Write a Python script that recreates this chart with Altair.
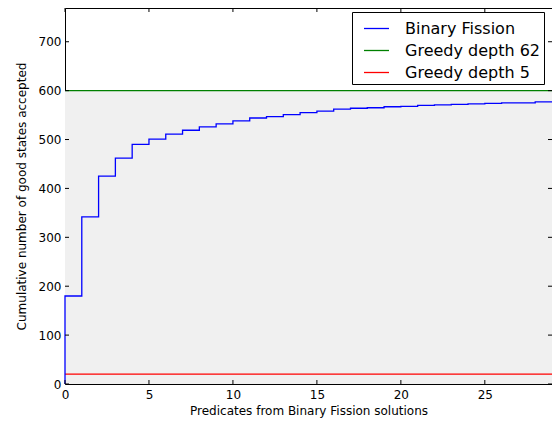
import altair as alt
import pandas as pd

# Data
steps_x = [0, 0, 1, 2, 3, 4, 5, 6, 7, 8, 9, 10, 11, 12, 13, 14, 15, 16, 17, 18, 19,
           20, 21, 22, 23, 24, 25, 26, 27, 28, 29]
steps_y = [0, 180, 342, 425, 462, 490, 501, 511, 519, 526, 532, 538, 544, 547, 551, 555,
           558, 562, 564, 565, 567, 568, 570, 571, 572, 573, 574, 575, 575, 577, 577]
series_names = ["Binary Fission", "Greedy depth 62", "Greedy depth 5"]
series_colors = ["#0000ff", "#008000", "#ff0000"]
greedy_values = [600, 20]
x_ticks = [0, 5, 10, 15, 20, 25]
y_ticks = [0, 100, 200, 300, 400, 500, 600, 700]
x_domain = [0, 29]
y_domain = [0, 769]

W, H = 487, 376
FONT = "DejaVu Sans"

step_df = pd.DataFrame({"x": steps_x, "y": steps_y, "order": list(range(len(steps_x))),
                        "series": series_names[0]})
rule_df = pd.DataFrame({"y": greedy_values, "series": series_names[1:]})
band_df = pd.DataFrame({"y0": [0], "y1": [greedy_values[0]]})
xt_df = pd.DataFrame({"t": x_ticks})
yt_df = pd.DataFrame({"t": y_ticks})

xscale = alt.Scale(domain=x_domain, nice=False, zero=False)
yscale = alt.Scale(domain=y_domain, nice=False, zero=False)
cscale = alt.Scale(domain=series_names, range=series_colors)

xaxis = alt.Axis(values=x_ticks, title="Predicates from Binary Fission solutions",
                 ticks=False, domain=False, grid=False, labelPadding=5, titlePadding=5,
                 labelFlush=False)
yaxis = alt.Axis(values=y_ticks, title="Cumulative number of good states accepted",
                 ticks=False, domain=False, grid=False, labelPadding=4, titlePadding=10)

band = alt.Chart(band_df).mark_rect(color="#f0f0f0").encode(
    x=alt.value(0), x2=alt.value(W),
    y=alt.Y("y0:Q", scale=yscale, axis=yaxis), y2="y1:Q")

legend = alt.Legend(title=None, orient="none", legendX=287, legendY=4,
                    symbolType="stroke", symbolSize=625, symbolStrokeWidth=1.3,
                    symbolOffset=8, labelOffset=15, labelFont=FONT, labelFontSize=16,
                    labelColor="black", strokeColor="black", fillColor="white",
                    padding=3, rowPadding=-2, cornerRadius=0)

line = alt.Chart(step_df).mark_line(interpolate="step-after", strokeWidth=1.3).encode(
    x=alt.X("x:Q", scale=xscale, axis=xaxis),
    y=alt.Y("y:Q", scale=yscale),
    order="order:Q",
    color=alt.Color("series:N", scale=cscale, legend=legend))

rules = alt.Chart(rule_df).mark_rule(strokeWidth=1.3).encode(
    y=alt.Y("y:Q", scale=yscale),
    color=alt.Color("series:N", scale=cscale, legend=legend))

tb = alt.Chart(xt_df).mark_rule(color="black", strokeWidth=1).encode(
    x=alt.X("t:Q", scale=xscale), y=alt.value(H), y2=alt.value(H - 4))
tt = alt.Chart(xt_df).mark_rule(color="black", strokeWidth=1).encode(
    x=alt.X("t:Q", scale=xscale), y=alt.value(0), y2=alt.value(4))
tl = alt.Chart(yt_df).mark_rule(color="black", strokeWidth=1).encode(
    y=alt.Y("t:Q", scale=yscale), x=alt.value(0), x2=alt.value(4))
tr = alt.Chart(yt_df).mark_rule(color="black", strokeWidth=1).encode(
    y=alt.Y("t:Q", scale=yscale), x=alt.value(W - 4), x2=alt.value(W))

chart = alt.layer(band, rules, line, tb, tt, tl, tr).properties(
    width=W, height=H,
    autosize=alt.AutoSizeParams(type="none"),
    padding={"left": 57, "top": 0, "right": 0, "bottom": 35},
    background="white",
).configure_view(stroke="black", strokeWidth=1).configure_axis(
    labelFont=FONT, labelFontSize=12, labelColor="black",
    titleFont=FONT, titleFontSize=12, titleFontWeight="normal", titleColor="black")

chart.save("out.html", embed_options={"renderer": "svg", "actions": False})
